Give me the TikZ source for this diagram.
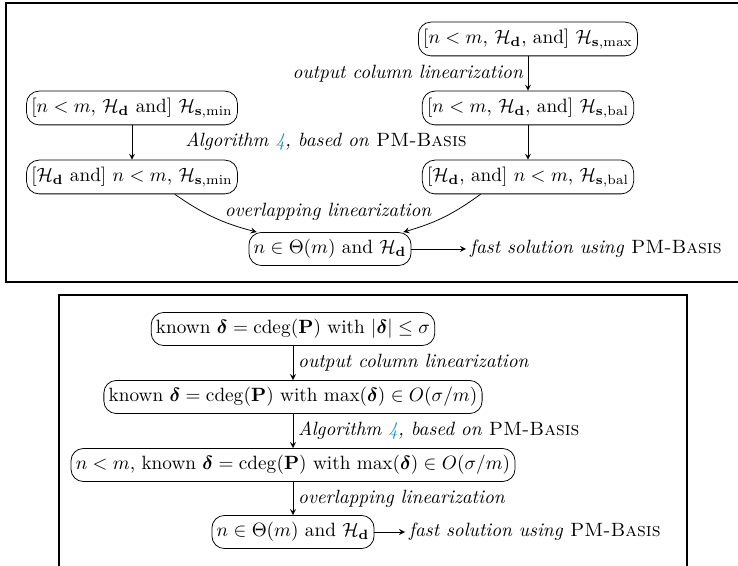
\documentclass[tikz,border=0pt]{standalone}
\usepackage{amsmath,amssymb,bm}
\usetikzlibrary{arrows}
\definecolor{linkblue}{RGB}{30,144,200}
\newcommand{\pmbasis}{\textup{\textsc{PM-Basis}}}
\newcommand{\Hd}{\mathcal{H}_{\mathbf{d}}}
\newcommand{\Hs}[1]{\mathcal{H}_{\mathbf{s},#1}}
\newcommand{\dlt}{\bm{\delta}}

\begin{document}
\begin{tikzpicture}
  [x=0.52pt,y=-0.52pt,>=stealth,every node/.style={inner sep=0pt},
   box/.style={draw,rounded corners=6.5pt,inner xsep=2.5pt,inner ysep=3.6pt},
   lbl/.style={font=\itshape},
   frame/.style={line width=1pt}]
  \useasboundingbox (0,0) rectangle (738,566);

  % upper figure
  \draw[frame] (742,3) -- (6,3) -- (6,282) -- (742,282);
  \node (r1)[box] at (528,39) {[$n<m$, $\Hd$, and] $\Hs{\max}$};
  \node (r2)[box] at (528,108) {[$n<m$, $\Hd$, and] $\Hs{\mathrm{bal}}$};
  \node (r3)[box] at (528,177) {[$\Hd$, and] $n<m$, $\Hs{\mathrm{bal}}$};
  \node (l1)[box] at (132,108) {[$n<m$, $\Hd$ and] $\Hs{\min}$};
  \node (l2)[box] at (132,177) {[$\Hd$ and] $n<m$, $\Hs{\min}$};
  \node (th)[box] at (330,249) {$n\in\Theta(m)$ and $\Hd$};
  \node (fast)[lbl,anchor=west,inner xsep=2pt] at (466,249) {fast solution using \pmbasis};
  \node (alg)[lbl] at (326,142) {Algorithm \textcolor{linkblue}{4}, based on \pmbasis};
  \node (ovl)[lbl] at (328,212) {overlapping linearization};

  \draw[->] (r1) -- node[lbl,left=2.5pt] {output column linearization} (r2);
  \foreach \from/\to in {r2/r3,l1/l2,th/fast}
    \draw[->] (\from) -- (\to);
  \draw[->] (l2.-22) to[bend right=10] (th.167);
  \draw[->] (r3.-160) to[bend left=10] (th.13);

  % lower figure
  \draw[frame] (59,570) -- (59,295) -- (687,295) -- (687,570);
  \node (b1)[box] at (293,329) {known $\dlt=\operatorname{cdeg}(\mathbf{P})$ with $|\dlt|\le\sigma$};
  \node (b2)[box] at (293,397) {known $\dlt=\operatorname{cdeg}(\mathbf{P})$ with $\max(\dlt)\in O(\sigma/m)$};
  \node (b3)[box] at (293,465) {$n<m$, known $\dlt=\operatorname{cdeg}(\mathbf{P})$ with $\max(\dlt)\in O(\sigma/m)$};
  \node (b4)[box] at (293,532) {$n\in\Theta(m)$ and $\Hd$};
  \node (fast2)[lbl,anchor=west,inner xsep=2pt] at (405,532) {fast solution using \pmbasis};

  \draw[->] (b1) -- node[lbl,right=2.5pt] {output column linearization} (b2);
  \draw[->] (b2) -- node[lbl,right=2.5pt] {Algorithm \textcolor{linkblue}{4}, based on \pmbasis} (b3);
  \draw[->] (b3) -- node[lbl,right=2.5pt] {overlapping linearization} (b4);
  \draw[->] (b4) -- (fast2);
\end{tikzpicture}
\end{document}
